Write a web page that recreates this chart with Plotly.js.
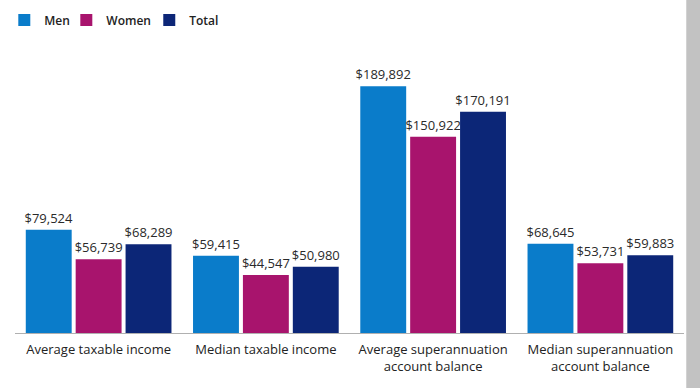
<!DOCTYPE html>
<html><head><meta charset="utf-8">
<script src="https://cdn.plot.ly/plotly-3.0.1.min.js"></script>
<style>html,body{margin:0;padding:0;background:#fff;}#chart{width:700px;height:388px;}</style>
</head><body><div id="chart"></div>
<script>
const categories = ["Average taxable income", "Median taxable income", "Average superannuation<br>account balance", "Median superannuation<br>account balance"];
const seriesNames = ["Men", "Women", "Total"];
const menValues = [79524, 59415, 189892, 68645];
const womenValues = [56739, 44547, 150922, 53731];
const totalValues = [68289, 50980, 170191, 59883];
const colors = ["#0a7cca", "#a8146d", "#0c2677"];

const allValues = [menValues, womenValues, totalValues];
const legendIds = ["legend", "legend2", "legend3"];
const legendX = [-0.016, 0.0767, 0.2007];
const fmt = v => "$" + v.toLocaleString("en-US");

const data = allValues.map((vals, i) => ({
  type: "bar",
  name: seriesNames[i],
  legend: legendIds[i],
  x: categories,
  y: vals,
  text: vals.map(fmt),
  textposition: "outside",
  constraintext: "none",
  cliponaxis: false,
  textfont: {family: "Open Sans, sans-serif", size: 13, color: "#2a2a2a"},
  marker: {color: colors[i]},
  hoverinfo: "skip"
}));

const layout = {
  width: 700, height: 388,
  margin: {l: 15, r: 16, t: 40, b: 55, autoexpand: false},
  paper_bgcolor: "#fff", plot_bgcolor: "#fff",
  barmode: "group",
  bargap: 0.105,
  bargroupgap: 0.08,
  font: {family: "Open Sans, sans-serif", color: "#222"},
  showlegend: true,
  xaxis: {showline: true, linecolor: "#b0b0b0", linewidth: 1, ticks: "", showgrid: false,
          automargin: false, ticklabelstandoff: 4,
          tickfont: {size: 13, color: "#222"}, fixedrange: true},
  yaxis: {range: [0, 225400], visible: false, showgrid: false, zeroline: false, fixedrange: true, automargin: false},
  shapes: [{type: "rect", xref: "paper", yref: "paper", x0: 1.0034, x1: 1.03, y0: -0.3, y1: 1.3,
            fillcolor: "#c2c2c2", line: {width: 0}, layer: "above"}],
  hovermode: false
};
legendIds.forEach((id, i) => {
  layout[id] = {orientation: "h", x: legendX[i], xanchor: "left", y: 1.068, yanchor: "middle",
                bgcolor: "rgba(0,0,0,0)", borderwidth: 0,
                font: {size: 12, color: "#222", weight: 600}, itemwidth: 30};
});

Plotly.newPlot("chart", data, layout, {displayModeBar: false, staticPlot: true});
</script></body></html>
